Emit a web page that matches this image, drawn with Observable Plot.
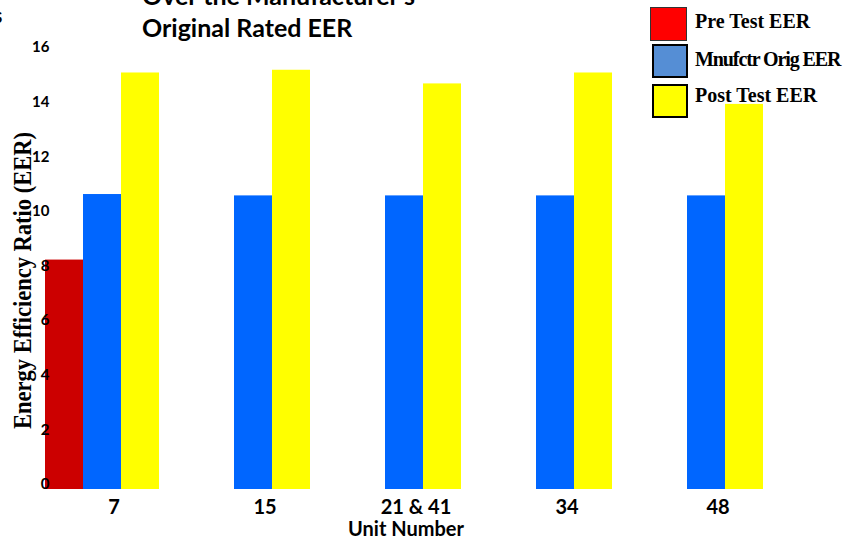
<!DOCTYPE html>
<html>
<head>
<meta charset="utf-8">
<script src="https://cdn.jsdelivr.net/npm/d3@7"></script>
<script src="https://cdn.jsdelivr.net/npm/@observablehq/plot@0.6"></script>
<style>
  html, body { margin: 0; padding: 0; background: #fff; }
  #wrap { position: relative; width: 855px; height: 538px; overflow: hidden; }
  #wrap svg { position: absolute; left: 0; top: 0; }
  .ov { position: absolute; white-space: nowrap; color: #000; }
  .title { font-family: Lato, sans-serif; font-weight: 700; font-size: 25px; line-height: 32px; left: 142px; top: -20.7px; }
  .frag { font-family: Lato, sans-serif; font-weight: 700; font-size: 15px; line-height: 15px; left: -6px; top: 10px; }
  .ylab { font-family: "Liberation Serif", "Times New Roman", serif; font-weight: 700; font-size: 25px; line-height: 25px;
          width: 400px; height: 25px; text-align: center; left: -178.4px; top: 268px;
          transform: rotate(-90deg) scaleX(0.9); transform-origin: center; }
  .xlab { font-family: Lato, sans-serif; font-weight: 700; font-size: 20px; line-height: 15px; width: 200px; text-align: center; left: 306px; top: 520.5px; }
  .lbox { position: absolute; box-sizing: border-box; }
  .ltxt { font-family: "Liberation Serif", "Times New Roman", serif; font-weight: 700; font-size: 20px; line-height: 20px; left: 695px; }
</style>
</head>
<body>
<div id="wrap"></div>
<script>
// ---- data ----
const units = ["7", "15", "21 & 41", "34", "48"];
const seriesNames = ["Pre Test EER", "Mnufctr Orig EER", "Post Test EER"];
const preTest  = [8.4, null, null, null, null];
const mfrOrig  = [10.8, 10.75, 10.75, 10.75, 10.75];
const postTest = [15.25, 15.35, 14.85, 15.25, 14.1];
const yTicks = [0, 2, 4, 6, 8, 10, 12, 14, 16];
const barColors = ["#CC0000", "#0066FF", "#FFFF00"];
const legendColors = ["#FF0000", "#558ED5", "#FFFF00"];

const rows = [];
units.forEach((u, i) => {
  [preTest, mfrOrig, postTest].forEach((arr, j) => {
    if (arr[i] != null) rows.push({unit: u, series: seriesNames[j], value: arr[i]});
  });
});

const chart = Plot.plot({
  width: 855,
  height: 538,
  marginLeft: 43,
  marginRight: 92,
  marginTop: 52,
  marginBottom: 49,
  style: {background: "transparent", overflow: "visible"},
  fx: {domain: units, paddingInner: 0.24, paddingOuter: 0, label: null},
  x: {domain: seriesNames, padding: 0, axis: null},
  y: {domain: [0, 16], axis: null},
  color: {domain: seriesNames, range: barColors},
  marks: [
    Plot.barY(rows, {fx: "unit", x: "series", y: "value", fill: "series"}),
    Plot.axisY({ticks: yTicks, tickSize: 0, tickPadding: -5, dy: -5, fontSize: 15, fontWeight: 700,
                fontFamily: "Lato, sans-serif", fill: "#000", label: null}),
    Plot.axisFx({anchor: "bottom", tickSize: 0, tickPadding: 10, dx: 12, fontSize: 20, fontWeight: 700,
                 fontFamily: "Lato, sans-serif", fill: "#000", label: null})
  ]
});

const wrap = document.getElementById("wrap");
wrap.appendChild(chart);

function addDiv(cls, html, style) {
  const d = document.createElement("div");
  d.className = cls;
  d.innerHTML = html;
  if (style) Object.assign(d.style, style);
  wrap.appendChild(d);
  return d;
}

addDiv("ov title", "Over the Manufacturer's<br>Original Rated EER");
addDiv("ov frag", "S");
addDiv("ov ylab", "Energy Efficiency Ratio (EER)");
addDiv("ov xlab", "Unit Number");

// legend
const boxes = [
  {left: 650, top: 7, w: 37, h: 34, border: "1.5px solid #333"},
  {left: 652, top: 44, w: 36, h: 34, border: "2px solid #000"},
  {left: 652, top: 84, w: 36, h: 34, border: "2px solid #000"}
];
const textTops = [11.3, 49.3, 85.3];
seriesNames.forEach((name, i) => {
  const b = boxes[i];
  addDiv("lbox", "", {left: b.left + "px", top: b.top + "px", width: b.w + "px", height: b.h + "px",
                      background: legendColors[i], border: b.border});
  const t = addDiv("ov ltxt", name, {top: textTops[i] + "px"});
  if (i === 1) t.style.letterSpacing = "-1.1px";
});
</script>
</body>
</html>
